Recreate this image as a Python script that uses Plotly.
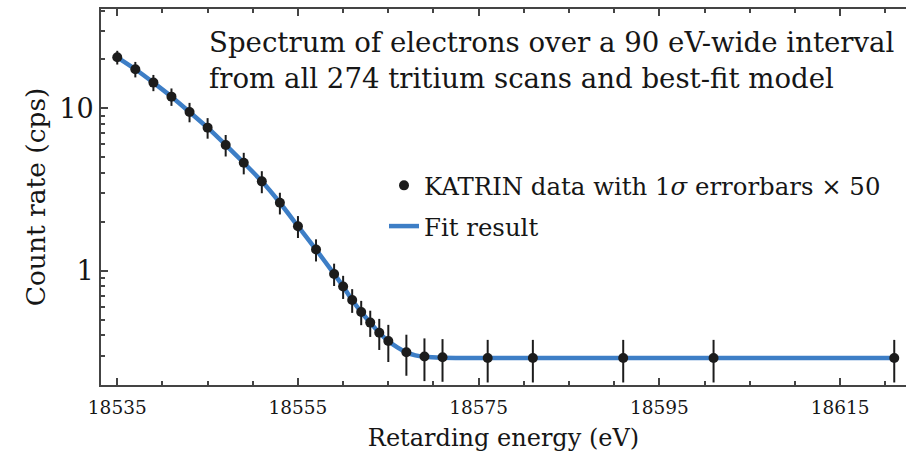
import plotly.graph_objects as go

# Data
energy = [18535, 18537, 18539, 18541, 18543, 18545, 18547, 18549, 18551, 18553,
          18555, 18557, 18559, 18560, 18561, 18562, 18563, 18564, 18565, 18567,
          18569, 18571, 18576, 18581, 18591, 18601, 18621]
rate = [20.6, 17.4, 14.4, 11.8, 9.5, 7.6, 5.95, 4.62, 3.55, 2.62,
        1.88, 1.35, 0.955, 0.80, 0.66, 0.557, 0.479, 0.415, 0.369, 0.3145,
        0.296, 0.293, 0.29, 0.29, 0.29, 0.29, 0.29]
err = [2.0, 1.9, 1.65, 1.45, 1.3, 1.1, 0.9, 0.7, 0.55, 0.4,
       0.29, 0.21, 0.15, 0.13, 0.11, 0.095, 0.088, 0.09, 0.095, 0.089,
       0.087, 0.086, 0.085, 0.085, 0.085, 0.085, 0.085]

fit_energy = [18535, 18537, 18539, 18541, 18543, 18545, 18547, 18549, 18551, 18553,
              18555, 18557, 18559, 18560, 18561, 18562, 18563, 18564, 18565, 18566,
              18567, 18568, 18569, 18571, 18576, 18581, 18591, 18601, 18621]
fit_rate = [20.6, 17.4, 14.4, 11.8, 9.5, 7.6, 5.95, 4.62, 3.55, 2.62,
            1.88, 1.35, 0.955, 0.80, 0.66, 0.557, 0.479, 0.415, 0.369, 0.337,
            0.314, 0.301, 0.295, 0.291, 0.29, 0.29, 0.29, 0.29, 0.29]

x_ticks = [18535, 18555, 18575, 18595, 18615]
x_tick_text = ["18535", "18555", "18575", "18595", "18615"]
y_ticks = [1, 10]
y_tick_text = ["1", "10"]
y_minor = [0.2, 0.3, 0.4, 0.5, 0.6, 0.7, 0.8, 0.9, 2, 3, 4, 5, 6, 7, 8, 9, 20, 30, 40]

title_text = ("Spectrum of electrons over a 90 eV-wide interval<br>"
              "from all 274 tritium scans and best-fit model")

FONT = "DejaVu Serif"
AX = "#444444"
TXT = "#161616"

fig = go.Figure()
fig.add_trace(go.Scatter(
    x=fit_energy, y=fit_rate, mode="lines", name="Fit result",
    line=dict(color="#3d7ec6", width=4.5, shape="spline", smoothing=0.6),
    legendgroup="b", legendrank=2,
))
fig.add_trace(go.Scatter(
    x=energy, y=rate, mode="markers",
    name="KATRIN data with 1<i>σ</i> errorbars × 50",
    marker=dict(color="#1c1c1c", size=10),
    error_y=dict(type="data", array=err, visible=True, color="#1c1c1c",
                 thickness=2, width=0),
    legendgroup="a", legendrank=1,
))

fig.update_layout(
    width=906, height=460,
    margin=dict(l=101, r=0, t=9, b=75),
    paper_bgcolor="white", plot_bgcolor="white",
    font=dict(family=FONT, color=TXT, size=24),
    showlegend=True,
    legend=dict(x=(384 - 101) / 805, y=1 - (163 - 9) / 376,
                xanchor="left", yanchor="top",
                bgcolor="rgba(0,0,0,0)", font=dict(size=24.4, family=FONT, color=TXT),
                traceorder="grouped", tracegroupgap=6,
                itemwidth=30),
    annotations=[dict(
        text=title_text, xref="paper", yref="paper",
        x=(207 - 101) / 805, y=1 - (24 - 9) / 376, xanchor="left", yanchor="top",
        align="left", showarrow=False,
        font=dict(family=FONT, size=27.6, color=TXT),
    )],
)

fig.update_xaxes(
    range=[18533.2, 18622.3],
    tickmode="array", tickvals=x_ticks, ticktext=x_tick_text,
    ticks="inside", ticklen=7, tickwidth=1.5, tickcolor=AX,
    showline=True, linecolor=AX, linewidth=2, mirror="allticks",
    showgrid=False, zeroline=False,
    tickfont=dict(family=FONT, size=18.5, color=TXT),
    ticklabelstandoff=5,
    minor=dict(dtick=5, tick0=18535, ticks="inside", ticklen=4, tickcolor=AX,
               tickwidth=1.5, showgrid=False),
    title=dict(text="Retarding energy (eV)", font=dict(family=FONT, size=24),
               standoff=12),
)
fig.update_yaxes(
    type="log", range=[-0.7038, 1.6115],
    tickmode="array", tickvals=y_ticks, ticktext=y_tick_text,
    ticks="inside", ticklen=7, tickwidth=1.5, tickcolor=AX,
    showline=True, linecolor=AX, linewidth=2, mirror=False,
    showgrid=False, zeroline=False,
    tickfont=dict(family=FONT, size=27, color=TXT),
    minor=dict(tickmode="array", tickvals=y_minor, ticks="inside", ticklen=4,
               tickcolor=AX, tickwidth=1.5, showgrid=False),
    title=dict(text="Count rate (cps)", font=dict(family=FONT, size=26.5),
               standoff=6),
)

fig.write_html("out.html")
